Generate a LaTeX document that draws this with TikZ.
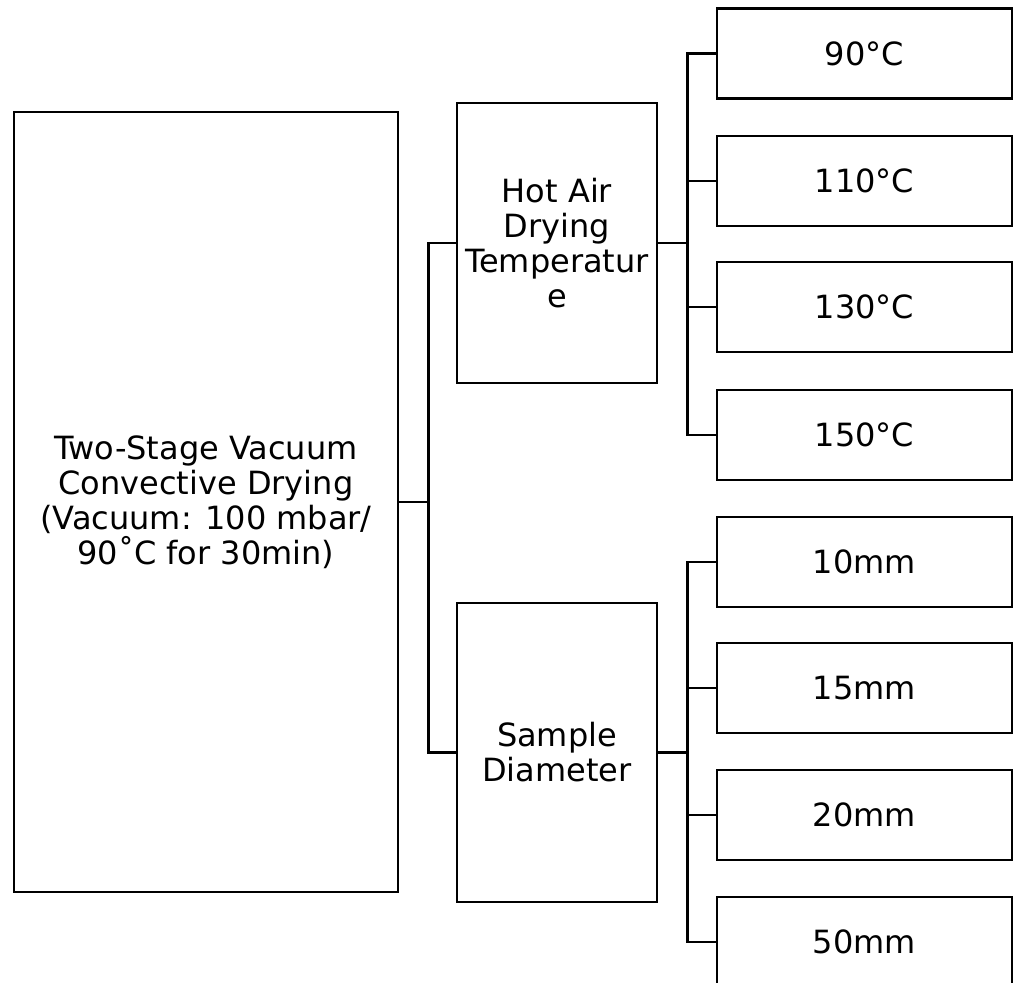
\documentclass[tikz,border=0pt]{standalone}
\usepackage{fontspec}
\setmainfont{DejaVu Sans}
\begin{document}
\begin{tikzpicture}[x=1pt,y=-1pt,
  box/.style={draw=black,line width=2.8pt,rectangle,inner sep=0pt,align=center,
    font=\fontsize{32}{35}\selectfont},
  conn/.style={draw=black,line width=2.8pt}]
\useasboundingbox (0,0) rectangle (1014,982);
\clip (0,0) rectangle (1014,982);
\node[box,minimum width=384pt,minimum height=780pt] (main) at (206,502)
  {Two-Stage Vacuum\\Convective Drying\\(Vacuum: 100 mbar/\\90˚C for 30min)};
\node[box,minimum width=200pt,minimum height=280pt] (hot) at (557,243)
  {Hot Air\\Drying\\Temperatur\\e};
\node[box,minimum width=200pt,minimum height=299pt] (samp) at (557,752.5)
  {Sample\\Diameter};
\node[box,minimum width=295pt,minimum height=90pt] (t90) at (864.5,53.5) {90°C};
\node[box,minimum width=295pt,minimum height=90pt] (t110) at (864.5,181) {110°C};
\node[box,minimum width=295pt,minimum height=90pt] (t130) at (864.5,307) {130°C};
\node[box,minimum width=295pt,minimum height=90pt] (t150) at (864.5,435) {150°C};
\node[box,minimum width=295pt,minimum height=90pt] (d10) at (864.5,562) {10mm};
\node[box,minimum width=295pt,minimum height=90pt] (d15) at (864.5,688) {15mm};
\node[box,minimum width=295pt,minimum height=90pt] (d20) at (864.5,815) {20mm};
\node[box,minimum width=295pt,minimum height=90pt] (d50) at (864.5,942) {50mm};
\draw[conn] (main.east) -- ++(29,0) |- (hot.west);
\draw[conn] (main.east) -- ++(29,0) |- (samp.west);
\foreach \t in {t90,t110,t130,t150}
  \draw[conn] (hot.east) -- ++(29,0) |- (\t.west);
\foreach \t in {d10,d15,d20,d50}
  \draw[conn] (samp.east) -- ++(29,0) |- (\t.west);
\end{tikzpicture}
\end{document}
